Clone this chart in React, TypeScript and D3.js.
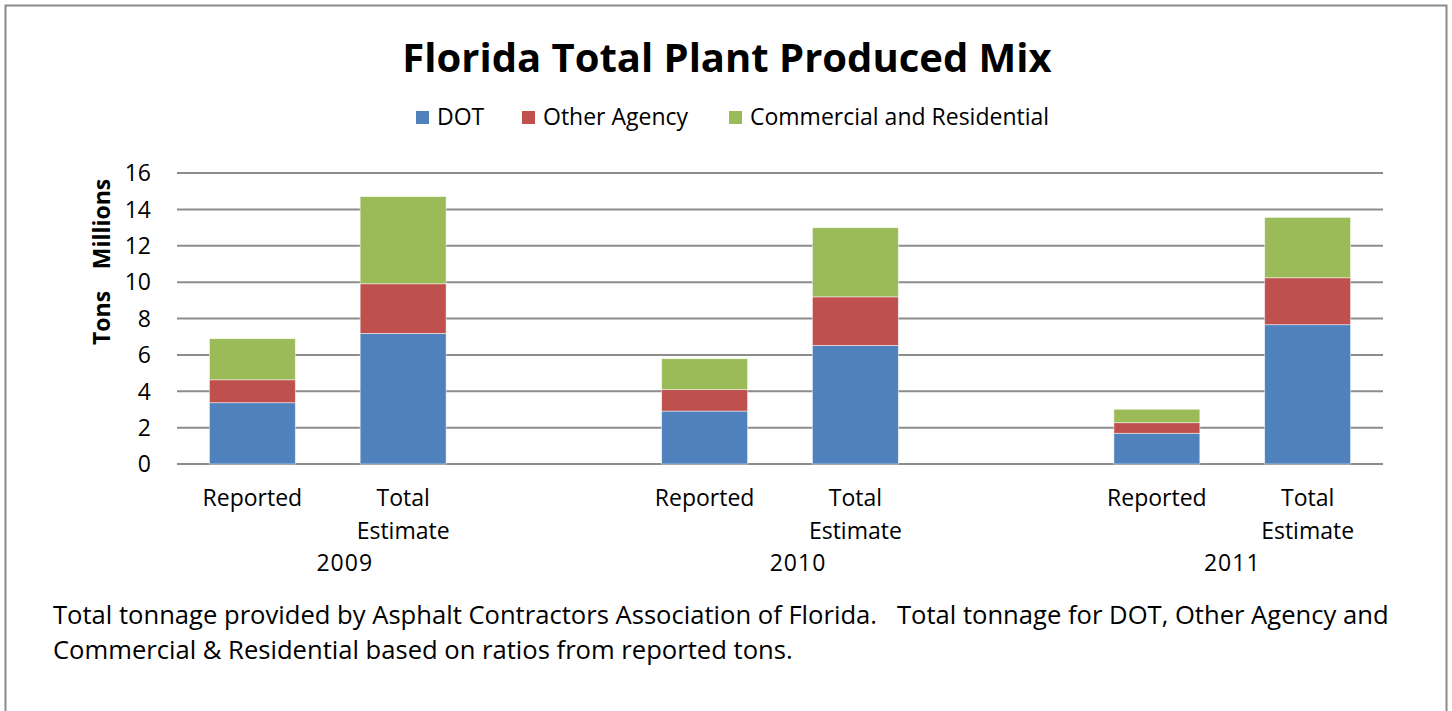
import React, { useRef, useEffect } from 'react';
import * as d3 from 'd3';

// values, millions of tons
const years = ['2009', '2010', '2011'];
const kinds = ['Reported', 'Total Estimate'];
const seriesNames = ['DOT', 'Other Agency', 'Commercial and Residential'];
const dotValues = [3.37, 7.18, 2.91, 6.52, 1.69, 7.66];
const otherValues = [1.26, 2.73, 1.18, 2.67, 0.58, 2.58];
const commercialValues = [2.26, 4.79, 1.70, 3.80, 0.74, 3.32];
const yTicks = [0, 2, 4, 6, 8, 10, 12, 14, 16];
const footnoteLines = [
  'Total tonnage provided by Asphalt Contractors Association of Florida.   Total tonnage for DOT, Other Agency and',
  'Commercial & Residential based on ratios from reported tons.',
];

const colors = ['#4F81BD', '#C0504D', '#9BBB59'];
const FONT = '"Open Sans", Lato, sans-serif';

const App = () => {
  const svgRef = useRef<SVGSVGElement>(null);

  useEffect(() => {
    const width = 1452;
    const height = 711;
    const plot = { left: 177, right: 1383, top: 173, bottom: 464 };

    const svg = d3.select(svgRef.current)
      .attr('width', width)
      .attr('height', height)
      .style('font-family', FONT);
    svg.selectAll('*').remove();

    // frame of the figure
    svg.append('rect')
      .attr('x', 5.5).attr('y', 5.5)
      .attr('width', 1441).attr('height', 730)
      .attr('fill', 'white')
      .attr('stroke', '#8a8a8a')
      .attr('stroke-width', 2);

    // slots: two bars per year, with an empty slot between years (as Excel did)
    const slots: string[] = [];
    years.forEach((y, i) => {
      kinds.forEach(k => slots.push(`${y}|${k}`));
      if (i < years.length - 1) slots.push(`gap${i}`);
    });

    const rows = slots.filter(s => !s.startsWith('gap')).map((key, i) => ({
      key,
      year: key.split('|')[0],
      kind: key.split('|')[1],
      DOT: dotValues[i],
      'Other Agency': otherValues[i],
      'Commercial and Residential': commercialValues[i],
    }));

    const x = d3.scaleBand<string>()
      .domain(slots)
      .range([plot.left, plot.right])
      .paddingInner(0.43)
      .paddingOuter(0.215);

    const y = d3.scaleLinear()
      .domain([0, 16])
      .range([plot.bottom, plot.top]);

    // gridlines
    svg.append('g')
      .selectAll('line')
      .data(yTicks)
      .enter()
      .append('line')
      .attr('x1', plot.left)
      .attr('x2', plot.right)
      .attr('y1', d => y(d))
      .attr('y2', d => y(d))
      .attr('stroke', '#8c8c8c')
      .attr('stroke-width', 2);

    // stacked bars
    const stack = d3.stack<any>().keys(seriesNames);
    const layers = stack(rows);

    svg.append('g')
      .selectAll('g')
      .data(layers)
      .enter()
      .append('g')
      .attr('fill', (_, i) => colors[i])
      .selectAll('rect')
      .data(d => d)
      .enter()
      .append('rect')
      .attr('x', d => x(d.data.key)!)
      .attr('y', d => y(d[1]))
      .attr('width', x.bandwidth())
      .attr('height', d => y(d[0]) - y(d[1]))
      .attr('stroke', 'rgba(255,255,255,0.6)')
      .attr('stroke-width', 0.8);

    // y tick labels
    svg.append('g')
      .selectAll('text')
      .data(yTicks)
      .enter()
      .append('text')
      .attr('x', 151)
      .attr('y', d => y(d))
      .attr('dy', '0.36em')
      .attr('text-anchor', 'end')
      .attr('font-size', 23)
      .attr('fill', '#000')
      .text(d => d);

    // y axis titles
    svg.append('text')
      .attr('transform', 'translate(110,224) rotate(-90)')
      .attr('text-anchor', 'middle')
      .attr('font-size', 23)
      .attr('font-weight', 'bold')
      .text('Millions');
    svg.append('text')
      .attr('transform', 'translate(110,318) rotate(-90)')
      .attr('text-anchor', 'middle')
      .attr('font-size', 23)
      .attr('font-weight', 'bold')
      .text('Tons');

    // category labels
    const catLabels = svg.append('g')
      .attr('font-size', 23)
      .attr('text-anchor', 'middle');
    rows.forEach(r => {
      const cx = x(r.key)! + x.bandwidth() / 2;
      const words = r.kind === 'Total Estimate' ? ['Total', 'Estimate'] : [r.kind];
      words.forEach((w, j) => {
        catLabels.append('text')
          .attr('x', cx)
          .attr('y', 506 + j * 33)
          .text(w);
      });
    });

    // year labels, centred between the two bars of each year
    const yearNudge = [17, 18, 0];
    years.forEach((yr, i) => {
      const a = x(`${yr}|${kinds[0]}`)! + x.bandwidth() / 2;
      const b = x(`${yr}|${kinds[1]}`)! + x.bandwidth() / 2;
      catLabels.append('text')
        .attr('x', (a + b) / 2 + yearNudge[i])
        .attr('y', 571)
        .attr('letter-spacing', 1)
        .text(yr);
    });

    // title
    svg.append('text')
      .attr('x', 727)
      .attr('y', 72)
      .attr('text-anchor', 'middle')
      .attr('font-size', 40)
      .attr('font-weight', 'bold')
      .text('Florida Total Plant Produced Mix');

    // legend
    const legendX = [416, 522, 729];
    const legend = svg.append('g');
    seriesNames.forEach((name, i) => {
      legend.append('rect')
        .attr('x', legendX[i])
        .attr('y', 111)
        .attr('width', 13)
        .attr('height', 13)
        .attr('fill', colors[i]);
      legend.append('text')
        .attr('x', legendX[i] + 21)
        .attr('y', 125)
        .attr('font-size', 23)
        .text(name);
    });

    // footnote
    footnoteLines.forEach((line, i) => {
      svg.append('text')
        .attr('x', 53)
        .attr('y', 624 + i * 35)
        .attr('font-size', 25.6)
        .attr('xml:space', 'preserve')
        .style('white-space', 'pre')
        .text(line);
    });
  }, []);

  return (
    <svg
      ref={svgRef}
      style={{ position: 'absolute', left: 0, top: 0, display: 'block' }}
    />
  );
};

export default App;
